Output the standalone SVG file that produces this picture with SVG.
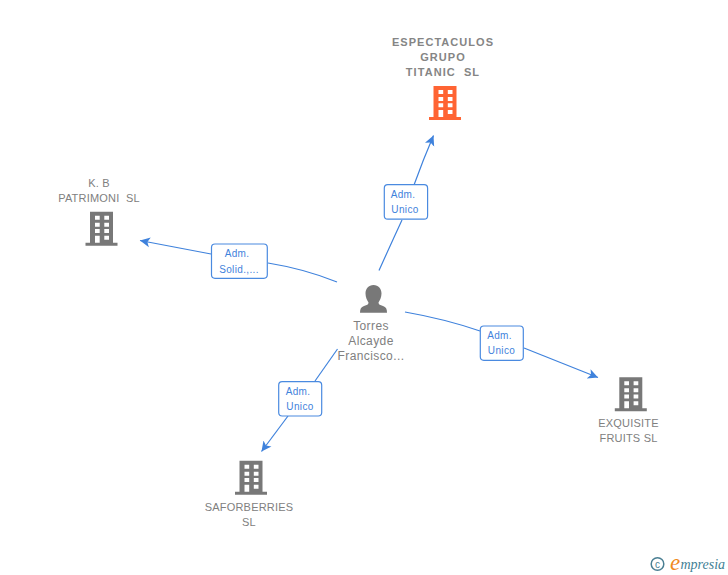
<svg xmlns="http://www.w3.org/2000/svg" width="728" height="575" viewBox="0 0 728 575">
<style>
.lbl{font:11px "Liberation Sans",Arial,sans-serif;fill:#808080;text-anchor:middle;white-space:pre;letter-spacing:.2px}
.top{font-weight:bold;letter-spacing:1.05px;fill:#858585;stroke:none}
.per{font-size:12px;letter-spacing:.4px}
.box{fill:#fff;stroke:#4a8ae0;stroke-width:1.2}
.bt{font:10px "Liberation Sans",Arial,sans-serif;fill:#3f82dc;text-anchor:middle;letter-spacing:.35px}
.con{fill:none;stroke:#3f82dc;stroke-width:1.2}
.b{fill:#787878}
.o{fill:#ff6433}
</style>
<defs>
<marker id="arr" markerUnits="userSpaceOnUse" markerWidth="12" markerHeight="12" viewBox="0 0 12 12" refX="10" refY="6" orient="auto">
<path d="M0 1L10 6L0 11L2.500 6Z" fill="#3f82dc"/>
</marker>
<path id="bld" fill-rule="evenodd" d="M0 0H23V31H27.500V34H-4.500V31H0ZM5 4V8H9.700V4ZM14.300 4V8H19V4ZM5 11V15H9.700V11ZM14.300 11V15H19V11ZM5 17.300V21.300H9.700V17.300ZM14.300 17.300V21.300H19V17.300ZM14.300 24V28H19V24ZM5 24V31H9.700V24Z"/>
</defs>
<g id="connectors">
<path class="con" d="M379 270.500Q390 246 402 220"/>
<path class="con" d="M414 185Q423 160 433.500 135.500" marker-end="url(#arr)"/>
<path class="con" d="M337 282Q305 269 268 263"/>
<path class="con" d="M211 254L140 240.500" marker-end="url(#arr)"/>
<path class="con" d="M405 312Q445 319 480 331"/>
<path class="con" d="M524 348L598 377.500" marker-end="url(#arr)"/>
<path class="con" d="M337.500 349L315 381"/>
<path class="con" d="M288 416L261.500 451.500" marker-end="url(#arr)"/>
</g>
<g id="node-espectaculos">
<text class="lbl top" x="443" y="46">ESPECTACULOS</text>
<text class="lbl top" x="443" y="61">GRUPO</text>
<text class="lbl top" x="443" y="76">TITANIC  SL</text>
<use href="#bld" class="o" x="433.500" y="86"/>
</g>
<g id="node-kb">
<text class="lbl" x="99" y="187">K. B</text>
<text class="lbl" x="99" y="202">PATRIMONI  SL</text>
<use href="#bld" class="b" x="90" y="211.700"/>
</g>
<g id="node-exquisite">
<use href="#bld" class="b" x="619.300" y="377.300"/>
<text class="lbl" x="628.500" y="427">EXQUISITE</text>
<text class="lbl" x="628.500" y="442">FRUITS SL</text>
</g>
<g id="node-saforberries">
<use href="#bld" class="b" x="239.500" y="460.700"/>
<text class="lbl" x="249" y="511">SAFORBERRIES</text>
<text class="lbl" x="249" y="526">SL</text>
</g>
<g id="node-person">
<path class="b" d="M373.500 285C378.500 285 381.500 289 381.500 293.500C381.500 297.500 379.800 300.500 378.500 302.500C378.500 304.500 380 305 383 306C386 307 387 309 387 312.800H360C360 309 361 307 364 306C367 305 368.500 304.500 368.500 302.500C367.200 300.500 365.500 297.500 365.500 293.500C365.500 289 368.500 285 373.500 285Z"/>
<text class="lbl per" x="371" y="330">Torres</text>
<text class="lbl per" x="371" y="345">Alcayde</text>
<text class="lbl per" x="371" y="360">Francisco...</text>
</g>
<g id="label-top">
<rect class="box" x="384.300" y="184.700" width="43.300" height="34.500" rx="3.500"/>
<text class="bt" x="403" y="198">Adm.</text>
<text class="bt" x="405" y="213">Unico</text>
</g>
<g id="label-left">
<rect class="box" x="211.500" y="244" width="55.800" height="34.300" rx="3.500"/>
<text class="bt" x="237" y="257">Adm.</text>
<text class="bt" x="239" y="273">Solid.,...</text>
</g>
<g id="label-right">
<rect class="box" x="480.300" y="326" width="43" height="34.300" rx="3.500"/>
<text class="bt" x="499.500" y="339">Adm.</text>
<text class="bt" x="501.500" y="354">Unico</text>
</g>
<g id="label-bottom">
<rect class="box" x="278.700" y="381.700" width="43" height="34.300" rx="3.500"/>
<text class="bt" x="298" y="395">Adm.</text>
<text class="bt" x="300" y="410">Unico</text>
</g>
<g id="logo">
<circle cx="657.500" cy="564" r="6.300" fill="none" stroke="#4a7f93" stroke-width="1.500"/>
<text x="657.500" y="567.500" font-family="Liberation Sans, sans-serif" font-size="10" fill="#4a7f93" text-anchor="middle">c</text>
<text x="670" y="570" font-family="Liberation Serif, serif" font-style="italic" font-size="23" fill="#f08a1d">e</text>
<text x="680.500" y="569" font-family="Liberation Serif, serif" font-style="italic" font-size="14" fill="#3f7f95">mpresia</text>
</g>
</svg>
